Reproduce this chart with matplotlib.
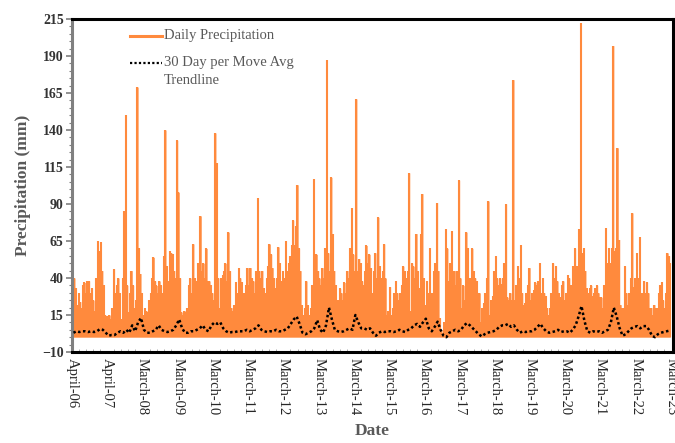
import numpy as np
import matplotlib
matplotlib.use("Agg")
import matplotlib.pyplot as plt
from matplotlib.ticker import MultipleLocator

# ---------------- data ----------------
# Daily precipitation sampled as half-monthly peak values, April 2006 -> March 2023 (mm)
precip = [
    40, 40, 33, 22, 30, 24, 20, 35, 37, 30, 38, 38, 30, 33, 25, 18, 40, 65, 58, 64, 45, 35, 15, 14,
    13, 15, 12, 20, 46, 30, 35, 40, 30, 12, 40, 85, 150, 35, 17, 30, 45, 35, 20, 25, 169, 60, 43, 30,
    15, 20, 18, 17, 25, 30, 40, 54, 38, 35, 30, 38, 35, 30, 55, 140, 48, 38, 58, 57, 56, 45, 40, 133,
    98, 40, 17, 15, 18, 17, 20, 35, 40, 30, 63, 40, 38, 50, 45, 82, 45, 50, 40, 60, 38, 38, 35, 30,
    25, 138, 118, 40, 20, 40, 42, 45, 50, 38, 71, 45, 20, 18, 22, 37, 30, 47, 40, 37, 30, 30, 35, 47,
    35, 47, 40, 38, 30, 45, 94, 45, 40, 45, 33, 30, 40, 48, 63, 56, 47, 40, 33, 40, 61, 50, 38, 45,
    40, 65, 45, 50, 55, 62, 79, 62, 75, 103, 60, 45, 22, 15, 20, 38, 22, 15, 20, 35, 107, 40, 56, 45,
    40, 35, 47, 40, 60, 187, 57, 45, 108, 70, 45, 35, 18, 25, 33, 30, 25, 37, 30, 45, 40, 60, 87, 56,
    45, 161, 45, 53, 50, 38, 35, 45, 62, 50, 56, 47, 30, 45, 57, 40, 81, 48, 40, 45, 63, 40, 15, 18,
    34, 15, 20, 30, 38, 30, 25, 30, 35, 48, 45, 40, 45, 111, 18, 50, 48, 40, 70, 45, 33, 70, 97, 40,
    22, 38, 30, 60, 22, 30, 45, 50, 91, 45, 13, 5, 3, 10, 73, 60, 38, 50, 72, 45, 45, 35, 45, 106,
    40, 20, 35, 25, 71, 60, 40, 40, 60, 45, 40, 38, 20, 30, 10, 20, 23, 30, 40, 92, 15, 25, 28, 45,
    55, 40, 35, 40, 36, 40, 50, 90, 27, 25, 30, 25, 174, 25, 35, 48, 40, 62, 30, 22, 23, 30, 35, 47,
    25, 30, 32, 37, 35, 38, 50, 30, 40, 30, 28, 20, 15, 20, 30, 50, 40, 48, 38, 30, 27, 35, 38, 25,
    30, 42, 40, 35, 35, 48, 60, 48, 48, 73, 212, 57, 60, 45, 33, 30, 33, 35, 28, 30, 33, 35, 30, 27,
    27, 20, 35, 74, 50, 60, 50, 60, 197, 58, 60, 128, 66, 22, 20, 20, 48, 30, 22, 30, 40, 84, 34, 40,
    57, 40, 68, 28, 30, 38, 30, 37, 30, 20, 20, 15, 22, 20, 20, 30, 35, 37, 25, 20, 30, 57, 55, 50,
]

# 30-day moving average trendline, monthly readings (mm)
moving_avg = [
    3, 4, 3.5, 4, 4, 3.5, 4, 3.5, 4, 5.5, 5, 3,
    1, 1.5, 1.5, 3, 4, 3, 5, 3, 8, 4, 10, 13,
    5, 3, 3, 4, 5, 8, 5, 4, 3.5, 4, 5, 8,
    12, 6, 3, 3, 4, 4, 5, 6, 8, 5, 4, 8,
    10, 9, 10, 6, 4, 3, 3.5, 3.5, 4, 4, 4, 5,
    4, 5, 6, 8, 5, 4, 3.5, 4, 4, 5, 4, 4,
    5, 6, 9, 12, 14, 9, 3, 2, 3, 4, 6, 11.5,
    5, 3, 8, 20, 12, 5, 4, 3.5, 4, 5, 6, 5,
    15, 10, 6, 6, 5, 6, 3, 1, 3, 4, 3.5, 4,
    4, 3.5, 4, 5, 4, 3.5, 5, 6, 8, 9, 7, 10,
    12.5, 6, 4, 7, 10.5, 5, 1, 0, 3, 4, 5, 4,
    5, 8, 9.5, 8, 6, 4, 2, 0.5, 2, 3, 3.5, 4,
    5, 7, 8, 8, 9, 7, 8, 5, 3, 4, 3.5, 4,
    4, 5, 7, 9, 6, 4, 3, 3.5, 4, 5, 3.5, 4,
    4, 3, 5, 8, 14, 21, 11, 4, 3, 4, 3.5, 4,
    3, 4, 5, 10, 20, 14, 6, 1, 2, 4, 6, 7,
    7.5, 6, 7.5, 7.5, 5, 1, 0, 2, 3, 3.5, 4, 4.5,
]

tick_labels = ["April-06", "April-07", "March-08", "March-09", "March-10", "March-11",
               "March-12", "March-13", "March-14", "March-15", "March-16", "March-17",
               "March-18", "March-19", "March-20", "March-21", "March-22", "March-23"]
y_ticks = [-10, 15, 40, 65, 90, 115, 140, 165, 190, 215]

# ---------------- layout ----------------
ORANGE = "#FF8A3D"
GRAY = "#595959"
SERIF = ["Liberation Serif", "DejaVu Serif"]

fig = plt.figure(figsize=(6.75, 4.43), dpi=100)
ax = fig.add_axes([72 / 675, 1 - 352 / 443, 601 / 675, 333 / 443])

n_years = len(tick_labels) - 1
span_days = n_years * 365
x_p = (np.arange(len(precip)) + 0.5) * span_days / len(precip)
x_m = (np.arange(len(moving_avg)) + 0.5) * span_days / len(moving_avg)

ax.fill_between(x_p, 0, precip, step="mid", color=ORANGE, linewidth=0, zorder=2)
ax.vlines(x_p, 0, precip, color=ORANGE, linewidth=1.5, zorder=2)
ax.plot(x_m, moving_avg, color="black", linewidth=1.8, linestyle=(0, (1, 1)), zorder=3)

ax.set_xlim(0, span_days + 20)
ax.set_ylim(-10, 215)

ax.set_yticks(y_ticks)
ax.yaxis.set_minor_locator(MultipleLocator(5))
ax.set_xticks([365 * k for k in range(len(tick_labels))])
ax.set_xticklabels(tick_labels, rotation=270, fontsize=10.5, family=SERIF, color="#262626")
ax.xaxis.set_minor_locator(MultipleLocator(73))
for lab in ax.get_yticklabels():
    lab.set_fontfamily(SERIF)
    lab.set_fontweight("bold")
    lab.set_fontsize(10)
    lab.set_color("#333333")

ax.tick_params(axis="y", which="major", direction="out", length=4, width=1.2, color="#7f7f7f", pad=2)
ax.tick_params(axis="y", which="minor", direction="out", length=2.5, width=0.8, color="#7f7f7f")
ax.tick_params(axis="x", which="major", direction="in", length=0, pad=4)
ax.tick_params(axis="x", which="minor", direction="in", length=2, width=0.6, color="#a0a0a0")

for side in ["top", "right", "bottom"]:
    ax.spines[side].set_color("black")
    ax.spines[side].set_linewidth(2.2)
ax.spines["left"].set_color("#808080")
ax.spines["left"].set_linewidth(2.2)

ax.set_ylabel("Precipitation (mm)", family=SERIF, fontweight="bold", fontsize=12.5, color=GRAY, labelpad=8)
ax.set_xlabel("Date", family=SERIF, fontweight="bold", fontsize=12.5, color=GRAY, labelpad=6)

# legend drawn inside the plot, upper left
ax.plot([0.0965, 0.150], [0.949, 0.949], transform=ax.transAxes, color=ORANGE, linewidth=2.2, zorder=4)
ax.text(0.153, 0.949, "Daily Precipitation", transform=ax.transAxes, va="center", ha="left",
        family=SERIF, fontsize=10.5, color=GRAY)
ax.plot([0.0965, 0.150], [0.868, 0.868], transform=ax.transAxes, color="black", linewidth=1.6,
        linestyle=(0, (1, 1)), zorder=4)
ax.text(0.153, 0.868, "30 Day per Move Avg", transform=ax.transAxes, va="center", ha="left",
        family=SERIF, fontsize=10.5, color=GRAY)
ax.text(0.153, 0.814, "Trendline", transform=ax.transAxes, va="center", ha="left",
        family=SERIF, fontsize=10.5, color=GRAY)

fig.savefig("out.png", dpi=100)
